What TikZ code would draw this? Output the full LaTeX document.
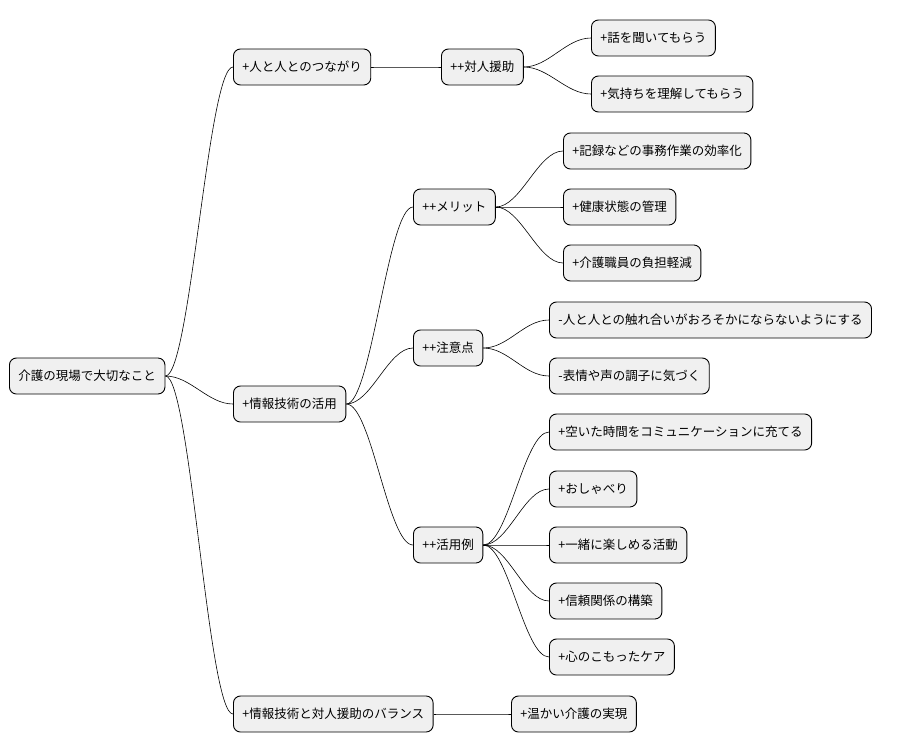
\documentclass[tikz,border=0pt]{standalone}
\usepackage{fontspec}
\setmainfont{Noto Sans CJK JP}
\begin{document}
\begin{tikzpicture}[x=1pt,y=-1pt,
  nd/.style={draw=black,line width=0.9pt,fill=black!6,rounded corners=7pt,minimum height=36pt,inner xsep=9pt,anchor=west,font=\fontsize{12.5}{14}\selectfont},
  ed/.style={draw=black,line width=0.6pt}]
\useasboundingbox (0,0) rectangle (921,752);
\node[nd] (r) at (9,376) {介護の現場で大切なこと};
\node[nd] (a) at (233,67) {+人と人とのつながり};
\node[nd] (b) at (233,404) {+情報技術の活用};
\node[nd] (c) at (233,714) {+情報技術と対人援助のバランス};
\node[nd] (a1) at (441,67) {++対人援助};
\node[nd] (a11) at (591,38) {+話を聞いてもらう};
\node[nd] (a12) at (591,94) {+気持ちを理解してもらう};
\node[nd] (b1) at (413,207) {++メリット};
\node[nd] (b11) at (563,151) {+記録などの事務作業の効率化};
\node[nd] (b12) at (563,207) {+健康状態の管理};
\node[nd] (b13) at (563,263) {+介護職員の負担軽減};
\node[nd] (b2) at (413,348) {++注意点};
\node[nd] (b21) at (549,320) {-人と人との触れ合いがおろそかにならないようにする};
\node[nd] (b22) at (549,376) {-表情や声の調子に気づく};
\node[nd] (b3) at (413,545) {++活用例};
\node[nd] (b31) at (549,432) {+空いた時間をコミュニケーションに充てる};
\node[nd] (b32) at (549,489) {+おしゃべり};
\node[nd] (b33) at (549,545) {+一緒に楽しめる活動};
\node[nd] (b34) at (549,601) {+信頼関係の構築};
\node[nd] (b35) at (549,657) {+心のこもったケア};
\node[nd] (c1) at (511,714) {+温かい介護の実現};
\foreach \p/\c in {r/a,r/b,r/c,a/a1,a1/a11,a1/a12,b/b1,b/b2,b/b3,b1/b11,b1/b12,b1/b13,b2/b21,b2/b22,b3/b31,b3/b32,b3/b33,b3/b34,b3/b35,c/c1}
  \draw[ed] (\p.east) .. controls ([xshift=25pt]\p.east) and ([xshift=-25pt]\c.west) .. (\c.west);
\end{tikzpicture}
\end{document}
